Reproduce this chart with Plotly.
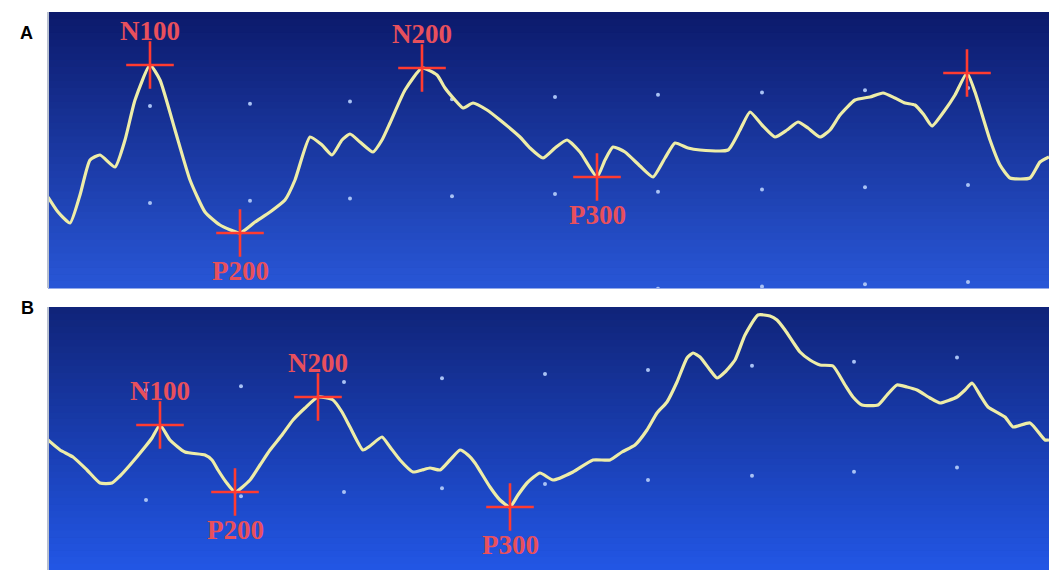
import plotly.graph_objects as go
import numpy as np

# ---------------- data (time in screen units, amplitude in screen units, negative-up EEG convention) ----
time_a = [48, 58, 70, 80, 90, 100, 115, 125, 135, 150, 160, 175, 190, 205, 220, 240, 255, 270, 285, 295,
          310, 322, 332, 342, 350, 360, 373, 382, 390, 405, 422, 437, 445, 455, 463, 473, 487, 500, 520, 530,
          543, 555, 567, 580, 597, 605, 613, 625, 640, 653, 665, 675, 688, 700, 728, 740, 750, 762, 775, 787,
          798, 808, 820, 830, 840, 855, 870, 883, 895, 905, 915, 924, 932, 945, 955, 967, 975, 990, 1000, 1010,
          1030, 1040, 1049]
amp_a = [197, 212, 223, 195, 160, 155, 167, 140, 100, 65, 80, 130, 180, 212, 225, 233, 222, 212, 200, 180,
         137, 145, 155, 140, 134, 142, 152, 140, 123, 90, 68, 75, 88, 100, 108, 103, 110, 120, 137, 148,
         158, 148, 140, 152, 177, 160, 147, 152, 166, 177, 158, 143, 148, 150, 150, 130, 112, 125, 137, 130,
         122, 128, 137, 130, 115, 100, 97, 93, 98, 103, 105, 115, 126, 110, 95, 73, 92, 140, 165, 178,
         178, 162, 157]

time_b = [48, 60, 73, 87, 100, 112, 120, 130, 145, 152, 160, 170, 185, 205, 212, 218, 226, 235, 250, 260,
          270, 282, 293, 305, 318, 333, 342, 350, 363, 370, 382, 390, 400, 413, 422, 430, 440, 450, 460, 468,
          475, 490, 500, 510, 518, 527, 540, 553, 573, 593, 610, 622, 635, 647, 657, 667, 677, 687, 693, 700,
          710, 717, 725, 735, 745, 758, 770, 777, 785, 793, 800, 810, 820, 833, 845, 853, 862, 878, 887, 897,
          907, 917, 930, 940, 957, 965, 972, 980, 988, 1005, 1013, 1030, 1045, 1049]
amp_b = [440, 450, 457, 470, 483, 483, 476, 465, 447, 438, 425, 440, 452, 455, 460, 470, 482, 492, 480, 465,
         450, 435, 420, 408, 397, 400, 412, 427, 450, 446, 437, 447, 460, 472, 470, 468, 470, 460, 450, 455,
         463, 487, 500, 507, 495, 483, 473, 480, 472, 460, 460, 452, 445, 430, 413, 402, 382, 358, 353, 357,
         370, 378, 372, 360, 335, 315, 316, 320, 330, 342, 352, 360, 365, 366, 385, 397, 405, 405, 395, 385,
         387, 390, 398, 403, 397, 390, 383, 395, 407, 417, 427, 423, 440, 440]

peak_labels_a = ["N100", "P200", "N200", "P300", ""]
peak_time_a = [150, 240, 422, 597, 967]
peak_amp_a = [65, 233, 68, 177, 73]

peak_labels_b = ["N100", "P200", "N200", "P300"]
peak_time_b = [160, 235, 318, 510]
peak_amp_b = [425, 492, 397, 507]

# reference grid dots of the screen
dot_cols_a = [150, 250, 350, 452, 555, 658, 762, 865, 968]
dot_rows_a = [106, 203, 300]
dot_cols_b = [146, 241, 344, 442, 545, 648, 752, 854, 957]
dot_rows_b = [390, 500]

# ---------------- figure ----------------
W, H = 1049, 570
fig = go.Figure()


def px_x(v):
    return v / W


def px_y(v):
    return 1 - v / H


panels = [
    dict(x="x", y="y", t=time_a, a=amp_a, pt=peak_time_a, pa=peak_amp_a, pl=peak_labels_a,
         cols=dot_cols_a, rows=dot_rows_a, tilt=-0.022,
         ctop=(12, 26, 108), cbot=(40, 86, 214)),
    dict(x="x2", y="y2", t=time_b, a=amp_b, pt=peak_time_b, pa=peak_amp_b, pl=peak_labels_b,
         cols=dot_cols_b, rows=dot_rows_b, tilt=-0.040,
         ctop=(16, 36, 122), cbot=(34, 86, 228)),
]

shapes = []
annotations = []
for p in panels:
    # grid dots
    cx, ry = np.meshgrid(p["cols"], p["rows"])
    dy = (cx - p["cols"][0]) * p["tilt"]
    fig.add_trace(go.Scatter(x=cx.ravel(), y=(ry + dy).ravel(), mode="markers",
                             marker=dict(size=4, color="#a9c2f4"), xaxis=p["x"], yaxis=p["y"],
                             hoverinfo="skip", showlegend=False, cliponaxis=True))
    # EEG trace
    fig.add_trace(go.Scatter(x=p["t"], y=p["a"], mode="lines",
                             line=dict(color="#eeeda8", width=3.2, shape="spline", smoothing=0.5),
                             xaxis=p["x"], yaxis=p["y"], showlegend=False))
    # peak crosses
    fig.add_trace(go.Scatter(x=p["pt"], y=p["pa"], mode="markers",
                             marker=dict(symbol="cross-thin", size=34,
                                         line=dict(color="#ff3b30", width=2.6)),
                             xaxis=p["x"], yaxis=p["y"], showlegend=False))
    # labels
    for t, a, lab in zip(p["pt"], p["pa"], p["pl"]):
        if not lab:
            continue
        above = lab.startswith("N")
        annotations.append(dict(x=t, y=a, xref=p["x"], yref=p["y"], text="<b>" + lab + "</b>",
                                showarrow=False, yshift=34 if above else -38,
                                font=dict(family="Liberation Serif", size=27, color="#e8505c")))
    # gradient background bands
    n = 40
    xd = p["x"] + " domain"
    yd = p["y"] + " domain"
    for i in range(n):
        f = i / (n - 1)
        c = tuple(int(round(p["ctop"][k] + (p["cbot"][k] - p["ctop"][k]) * f)) for k in range(3))
        shapes.append(dict(type="rect", xref=xd, yref=yd, x0=0, x1=1,
                           y0=1 - (i + 1) / n - 0.002, y1=1 - i / n,
                           fillcolor=f"rgb{c}", line=dict(width=0), layer="below"))
    shapes.append(dict(type="line", xref=xd, yref=yd, x0=0, x1=0, y0=0, y1=1,
                       line=dict(color="#b8c0d0", width=2), layer="above"))

annotations.append(dict(x=px_x(18), y=px_y(21), xref="paper", yref="paper", text="<b>A</b>",
                        showarrow=False, font=dict(family="Liberation Sans", size=18, color="black")))
annotations.append(dict(x=px_x(19), y=px_y(308), xref="paper", yref="paper", text="<b>B</b>",
                        showarrow=False, font=dict(family="Liberation Sans", size=18, color="black")))

axis_common = dict(showgrid=False, zeroline=False, showticklabels=False, ticks="", showline=False)
fig.update_layout(
    width=W, height=H, margin=dict(l=0, r=0, t=0, b=0),
    paper_bgcolor="white", plot_bgcolor="#1a3aa0",
    xaxis=dict(domain=[px_x(48), 1], range=[48, 1049], **axis_common),
    yaxis=dict(domain=[px_y(288), px_y(12)], range=[288, 12], **axis_common),
    xaxis2=dict(domain=[px_x(48), 1], range=[48, 1049], anchor="y2", **axis_common),
    yaxis2=dict(domain=[0, px_y(307)], range=[570, 307], anchor="x2", **axis_common),
    shapes=shapes, annotations=annotations, showlegend=False, hovermode=False,
)
fig.write_html(
    "out.html",
    config={"displayModeBar": False, "staticPlot": True},
    post_script=("document.body.style.margin='0';document.body.style.overflow='hidden';"
                 "document.documentElement.style.overflow='hidden';"),
)
